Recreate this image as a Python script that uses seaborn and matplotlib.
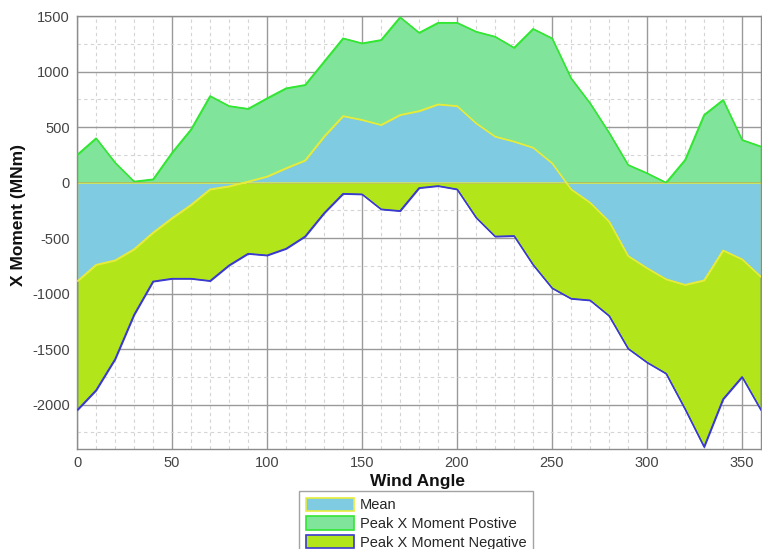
import numpy as np
import pandas as pd
import matplotlib
matplotlib.use("Agg")
import matplotlib.pyplot as plt
import seaborn as sns
from matplotlib.patches import Patch
from matplotlib.ticker import MultipleLocator

# ─── DATA ──────────────────────────────────────────────────────────────────────
wind_angle = list(range(0, 361, 10))

mean_moment = [
    -890, -740, -700, -600, -450, -320, -200, -60, -33, 10,
    55, 130, 200, 415, 600, 565, 520, 610, 645, 705,
    690, 535, 415, 370, 315, 175, -60, -180, -350, -660,
    -770, -870, -920, -880, -610, -690, -850,
]
peak_pos = [
    250, 400, 180, 10, 30, 270, 480, 780, 690, 665,
    760, 850, 880, 1090, 1300, 1255, 1285, 1490, 1350, 1440,
    1440, 1360, 1315, 1215, 1385, 1300, 940, 715, 450, 160,
    85, 0, 205, 610, 745, 385, 325,
]
peak_neg = [
    -2050, -1870, -1590, -1190, -890, -865, -865, -885, -745, -640,
    -655, -595, -485, -275, -100, -105, -240, -255, -48, -30,
    -60, -315, -485, -480, -740, -950, -1045, -1060, -1200, -1495,
    -1620, -1720, -2040, -2380, -1950, -1750, -2050,
]

SERIES = {
    'Mean':                     ('mean', '#7ecbe2', '#e6ec3a'),
    'Peak X Moment Postive':    ('pos',  '#80e49a', '#33e633'),
    'Peak X Moment Negative':   ('neg',  '#b2e61a', '#3a3ad0'),
}

df = pd.DataFrame({'angle': wind_angle, 'mean': mean_moment,
                   'pos': peak_pos, 'neg': peak_neg})

# ─── PLOT ──────────────────────────────────────────────────────────────────────
sns.set_style("white")
plt.rcParams['font.family'] = ['Liberation Sans', 'DejaVu Sans']
plt.rcParams['axes.unicode_minus'] = False

fig = plt.figure(figsize=(7.62, 5.49), dpi=100)
ax = fig.add_axes([77 / 762, 100 / 549, 684 / 762, 433 / 549])

# draw order: positive peak, negative peak, then mean on top
for name in ['Peak X Moment Postive', 'Peak X Moment Negative', 'Mean']:
    col, face, edge = SERIES[name]
    ax.fill_between(df['angle'], 0, df[col], facecolor=face,
                    edgecolor=edge, linewidth=1.0, zorder=2)
    sns.lineplot(data=df, x='angle', y=col, color=edge, linewidth=1.0,
                 ax=ax, zorder=3)

ax.set_xlim(0, 360)
ax.set_ylim(-2400, 1500)
ax.xaxis.set_major_locator(MultipleLocator(50))
ax.xaxis.set_minor_locator(MultipleLocator(10))
ax.yaxis.set_major_locator(MultipleLocator(500))
ax.yaxis.set_minor_locator(MultipleLocator(250))
ax.grid(which='major', color='#9a9a9a', linewidth=1.0, zorder=0)
ax.grid(which='minor', color='#d4d4d4', linewidth=0.8, linestyle=(0, (3, 3)), zorder=0)
ax.set_axisbelow(True)
ax.tick_params(which='both', length=0, labelsize=10.5, colors='#444444', pad=5)

for s in ax.spines.values():
    s.set_color('#8c8c8c')
    s.set_linewidth(1.0)

ax.set_xlabel("Wind Angle", fontsize=12.5, fontweight='bold', color='#111111')
ax.set_ylabel("X Moment (MNm)", fontsize=12.5, fontweight='bold', color='#111111')
ax.xaxis.set_label_coords(341 / 684, -25 / 433)
ax.yaxis.set_label_coords(-51 / 684, 234 / 433)

handles = [Patch(facecolor=SERIES[n][1], edgecolor=SERIES[n][2], linewidth=1.2, label=n)
           for n in ['Mean', 'Peak X Moment Postive', 'Peak X Moment Negative']]
leg = fig.legend(handles=handles, loc='upper left', bbox_to_anchor=(299 / 762, 1 - 491 / 549),
                 fontsize=10.5, frameon=True, fancybox=False, handlelength=3.3,
                 handleheight=1.0, handletextpad=0.4, labelspacing=0.3,
                 borderpad=0.45, borderaxespad=0)
leg.get_frame().set_edgecolor('#8c8c8c')
leg.get_frame().set_linewidth(1.0)

fig.savefig("out.png", dpi=100)
